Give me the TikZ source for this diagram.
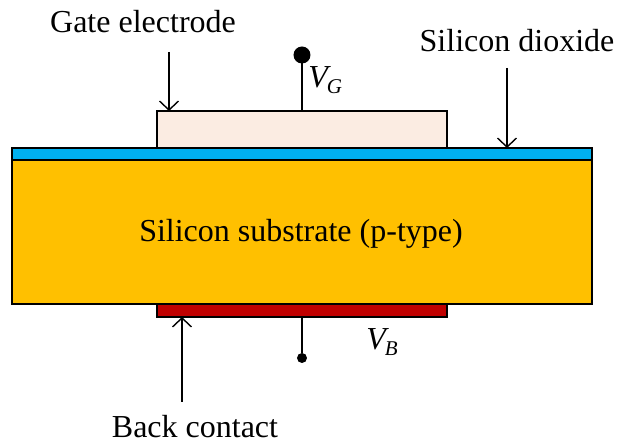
\documentclass[tikz,border=0pt]{standalone}
\usepackage{fontspec}
\setmainfont{Liberation Serif}
\usetikzlibrary{arrows.meta}
\usepackage{xcolor}
\definecolor{oxideblue}{RGB}{0,176,240}
\definecolor{siorange}{RGB}{255,192,0}
\definecolor{gatepeach}{RGB}{251,236,226}
\definecolor{backred}{RGB}{192,0,0}
\newcommand{\volt}[1]{\textit{V\kern-0.5pt\raisebox{-3pt}{\fontsize{10.5}{12}\selectfont #1}}}

\begin{document}
\begin{tikzpicture}[x=0.5pt, y=-0.5pt,
  layer/.style={draw, line width=0.7pt, inner sep=0pt, outer sep=0pt, minimum width=290pt},
  contact/.style={layer, minimum width=145pt},
  ptr/.style={-{Straight Barb[length=4.5pt, width=9.5pt]}, line width=0.7pt},
  wire/.style={line width=1pt},
  pin/.style={circle, fill, inner sep=0pt, outer sep=0pt, minimum size=#1},
  lbl/.style={font=\fontsize{16}{19}\selectfont, inner sep=0pt, anchor=base}
]
\useasboundingbox (0,0) rectangle (618,443);

% layers
\node[layer, fill=oxideblue, minimum height=6pt] (oxide) at (302,154) {};
\node[layer, fill=siorange, minimum height=72pt] (substrate) at (302,232) {};
\node[contact, fill=gatepeach, minimum height=18.5pt] (gate) at (302,129.5) {};
\node[contact, fill=backred, minimum height=6.5pt] (back) at (302,310.5) {};
\node[lbl] (subtext) at (301,242) {Silicon substrate (p-type)};

% terminals
\node[pin=8.5pt] (vgpin) at (302,55) {};
\draw[wire] (vgpin) -- (gate.north);
\node[lbl, anchor=base west] (vg) at (308,88) {\volt{G}};
\node[pin=5pt] (vbpin) at (302,358) {};
\draw[wire] (back.south) -- (vbpin);
\node[lbl, anchor=base west] (vb) at (366,350) {\volt{B}};

% labels and pointers
\node[lbl] (gatelbl) at (143,33) {Gate electrode};
\node[lbl] (oxidelbl) at (517,52) {Silicon dioxide};
\node[lbl] (backlbl) at (195,438) {Back contact};
\coordinate (gatefrom) at (169,52);
\coordinate (gateto) at (169,111);
\coordinate (oxidefrom) at (507,68);
\coordinate (oxideto) at (507,148);
\coordinate (backfrom) at (182,402);
\coordinate (backto) at (182,317);
\draw[ptr] (gatefrom) -- (gateto);
\draw[ptr] (oxidefrom) -- (oxideto);
\draw[ptr] (backfrom) -- (backto);
\end{tikzpicture}
\end{document}
